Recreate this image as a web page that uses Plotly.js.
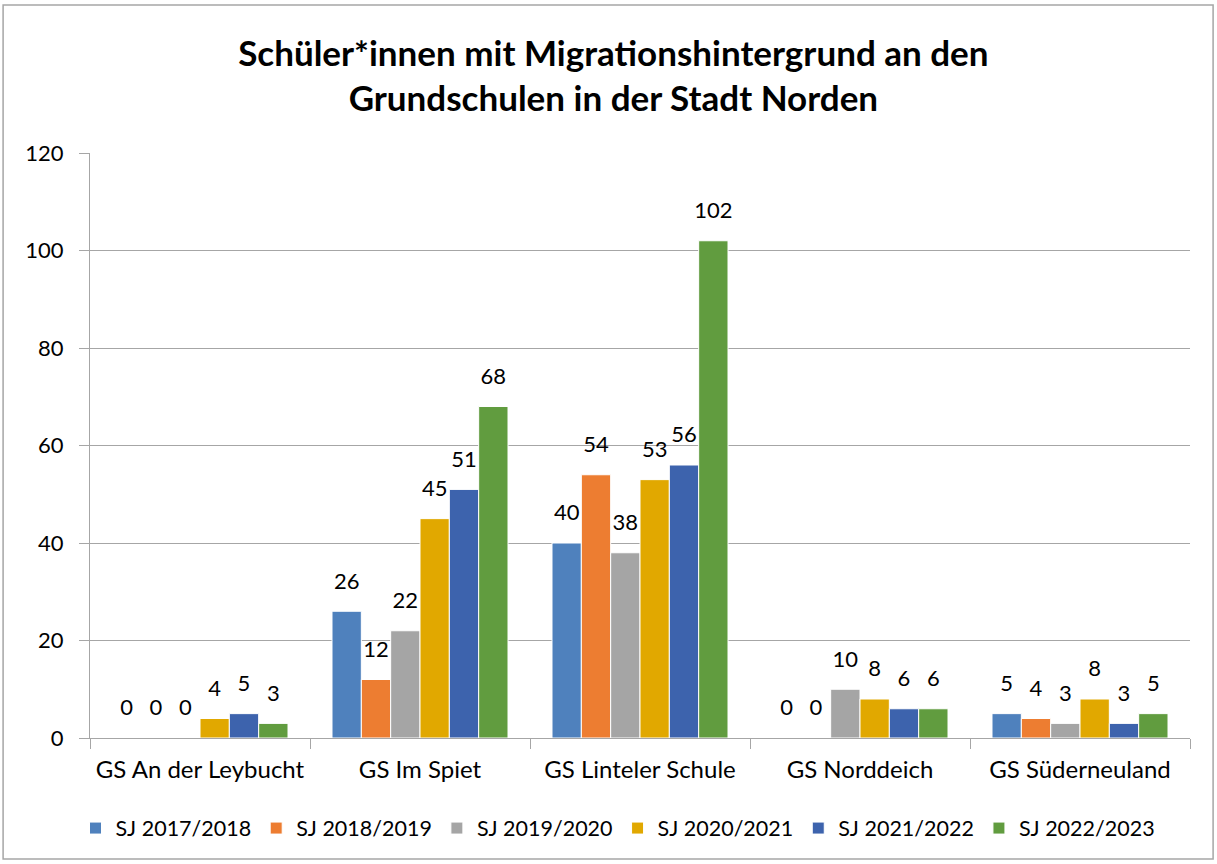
<!DOCTYPE html>
<html>
<head>
<meta charset="utf-8">
<script src="https://cdn.plot.ly/plotly-3.0.1.min.js"></script>
<style>
  html, body { margin: 0; padding: 0; background: #fff; }
  #myDiv { width: 1217px; height: 864px; }
</style>
</head>
<body>
<div id="myDiv"></div>
<script>
// Daten
const schulen = ["GS An der Leybucht", "GS Im Spiet", "GS Linteler Schule", "GS Norddeich", "GS Süderneuland"]
const jahre = ["SJ 2017/2018", "SJ 2018/2019", "SJ 2019/2020", "SJ 2020/2021", "SJ 2021/2022", "SJ 2022/2023"]
const sj1718 = [0, 26, 40, 0, 5]
const sj1819 = [0, 12, 54, 0, 4]
const sj1920 = [0, 22, 38, 10, 3]
const sj2021 = [4, 45, 53, 8, 8]
const sj2122 = [5, 51, 56, 6, 3]
const sj2223 = [3, 68, 102, 6, 5]
const farben = ["#4F81BD", "#ED7D31", "#A5A5A5", "#E1A800", "#3D63AD", "#619C3F"]

const werte = [sj1718, sj1819, sj1920, sj2021, sj2122, sj2223]
const schrift = "Lato, 'Open Sans', sans-serif"

let balken = []
let beschriftung = []
for (let i = 0; i < jahre.length; i++){
	balken.push({
		type: 'bar',
		name: jahre[i],
		x: schulen,
		y: werte[i],
		marker: {color: farben[i], line: {color: '#fff', width: 1}},
		hoverinfo: 'x+y+name'
	})
	// Werte über den Balken (unsichtbare Marker als Abstand)
	beschriftung.push({
		type: 'scatter',
		mode: 'markers+text',
		x: schulen,
		y: werte[i],
		text: werte[i].map(String),
		textposition: 'top center',
		textfont: {family: schrift, size: 22, color: '#000'},
		marker: {size: 26, opacity: 0},
		cliponaxis: false,
		showlegend: false,
		hoverinfo: 'skip'
	})
}

// Plotbereich: x 90..1190, y 153..738
const layout = {
	width: 1217,
	height: 864,
	paper_bgcolor: '#fff',
	plot_bgcolor: '#fff',
	font: {family: schrift, color: '#000'},
	margin: {l: 90, r: 27, t: 153, b: 126, autoexpand: false},
	title: {
		text: "<b>Schüler*innen mit Migrationshintergrund an den<br>Grundschulen in der Stadt Norden</b>",
		font: {family: schrift, size: 35, color: '#000'},
		x: 0.504, xanchor: 'center',
		yref: 'container',
		y: 0.924, yanchor: 'top'
	},
	barmode: 'group',
	bargap: 0.2,
	bargroupgap: 0,
	scattermode: 'group',
	scattergap: 0.2,
	xaxis: {
		type: 'category',
		showgrid: false,
		showline: true,
		linecolor: '#A6A6A6',
		linewidth: 1,
		ticks: 'outside',
		tickson: 'boundaries',
		ticklen: 10,
		tickcolor: '#A6A6A6',
		ticklabelstandoff: 10,
		tickfont: {family: schrift, size: 24, color: '#000'},
		zeroline: false
	},
	yaxis: {
		range: [0, 120],
		dtick: 20,
		showgrid: true,
		gridcolor: '#A6A6A6',
		gridwidth: 1,
		showline: true,
		linecolor: '#A6A6A6',
		ticks: 'outside',
		ticklen: 10,
		tickcolor: '#A6A6A6',
		ticklabelstandoff: 11,
		tickfont: {family: schrift, size: 22, color: '#000'},
		zeroline: false
	},
	showlegend: true,
	legend: {
		orientation: 'h',
		x: 0.48, xanchor: 'center',
		y: -0.154, yanchor: 'middle',
		font: {family: schrift, size: 21.5, color: '#000'},
		itemwidth: 30,
		traceorder: 'normal'
	},
	shapes: [
		// Rahmen um das Diagramm
		{type: 'rect', xref: 'paper', yref: 'paper',
		 x0: -0.079, x1: 1.021, y0: -0.207, y1: 1.253,
		 line: {color: '#A6A6A6', width: 1.5}, fillcolor: 'rgba(0,0,0,0)'}
	]
}

Plotly.newPlot('myDiv', balken.concat(beschriftung), layout, {displayModeBar: false, staticPlot: true})
</script>
</body>
</html>
